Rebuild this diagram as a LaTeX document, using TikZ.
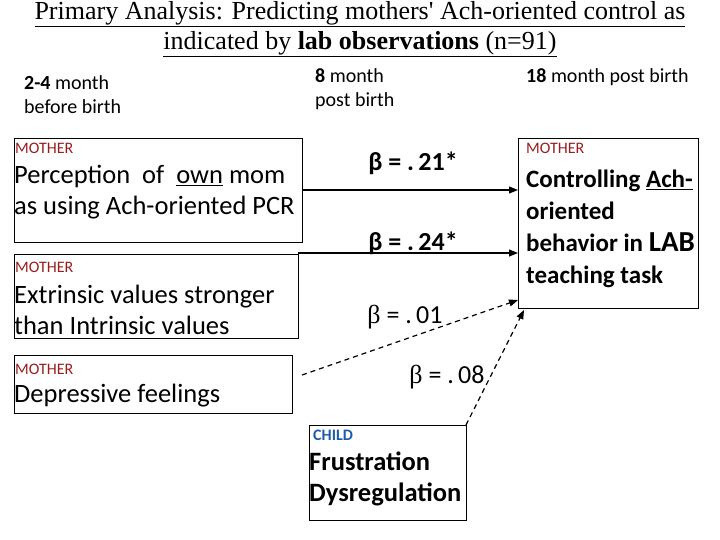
\documentclass[tikz,border=0pt]{standalone}
\usepackage{fontspec}
\setmainfont{Carlito}
\newfontfamily\tnr{Liberation Serif}
\usetikzlibrary{arrows.meta}
\definecolor{mred}{RGB}{150,30,30}
\definecolor{cblue}{RGB}{30,90,170}
\begin{document}
\begin{tikzpicture}[x=1pt,y=-1pt,
 box/.style={draw,line width=0.8pt},
 tag/.style={anchor=west,inner sep=0pt,font=\fontsize{16}{18}\selectfont},
 txt/.style={anchor=west,inner sep=0pt,align=left,font=\fontsize{26.5}{31}\selectfont},
 hdr/.style={anchor=west,inner sep=0pt,align=left,font=\fontsize{20}{24}\selectfont},
 beta/.style={inner sep=0pt,font=\fontsize{26}{28}\selectfont},
 sol/.style={line width=1.2pt,-{Triangle[length=9pt,width=7pt]}},
 dsh/.style={line width=1.2pt,dashed,dash pattern=on 5pt off 4pt,-{Triangle[length=9pt,width=7pt]}}]
\useasboundingbox (0,0) rectangle (720,540);
\node[inner sep=0pt,align=center,font=\tnr\fontsize{26}{30}\selectfont] (title) at (360,29)
 {\underline{Primary Analysis: Predicting mothers' Ach-oriented control as}\\ \underline{indicated by \textbf{lab observations} (n=91)}};
\node[hdr] (h1) at (24,95) {\textbf{2-4} month\\before birth};
\node[hdr] (h2) at (315,89) {\textbf{8} month\\post birth};
\node[hdr] (h3) at (526,77) {\textbf{18} month post birth};
% boxes
\draw[box] (14,138) rectangle (302,242);
\node[tag,text=mred] (t1) at (15,148) {MOTHER};
\node[txt] (x1) at (14,192) {Perception\ \ of\ \ \underline{own} mom\\as using Ach-oriented PCR};
\draw[box] (14,254) rectangle (298,338);
\node[tag,text=mred] (t2) at (15,267) {MOTHER};
\node[txt] (x2) at (14,310) {Extrinsic values stronger\\than Intrinsic values};
\draw[box] (14,355) rectangle (292,413);
\node[tag,text=mred] (t3) at (15,369) {MOTHER};
\node[txt] (x3) at (14,396) {Depressive feelings};
\draw[box] (309,425) rectangle (466,520);
\node[tag,text=cblue,font=\fontsize{16}{18}\selectfont\bfseries] (t4) at (313,435) {CHILD};
\node[txt] (x4) at (309,479) {\textbf{Frustration}\\\textbf{Dysregulation}};
\draw[box] (518,138) rectangle (698,308);
\node[tag,text=mred] (t5) at (526,148) {MOTHER};
\node[anchor=west,inner sep=0pt,align=left,font=\fontsize{25}{32}\selectfont\bfseries] (x5) at (526,229)
 {Controlling \underline{Ach-}\\oriented\\behavior in {\fontsize{29}{32}\selectfont LAB}\\teaching task};
% arrows
\coordinate (s1) at (302,190); \coordinate (e1) at (518,190);
\coordinate (s2) at (298,253); \coordinate (e2) at (518,253);
\coordinate (s3) at (302,375); \coordinate (e3) at (518,300);
\coordinate (s4) at (466,425); \coordinate (e4) at (524,310);
\draw[sol] (s1) -- (e1);
\draw[sol] (s2) -- (e2);
\draw[dsh] (s3) -- (e3);
\draw[dsh] (s4) -- (e4);
\node[beta,font=\fontsize{26}{28}\selectfont\bfseries] (l1) at (413,163) {β = .\,21*};
\node[beta,font=\fontsize{26}{28}\selectfont\bfseries] (l2) at (413,243) {β = .\,24*};
\node[beta] (l3) at (405,317) {{\tnr β} = .\,01};
\node[beta] (l4) at (447,377) {{\tnr β} = .\,08};
\end{tikzpicture}
\end{document}
